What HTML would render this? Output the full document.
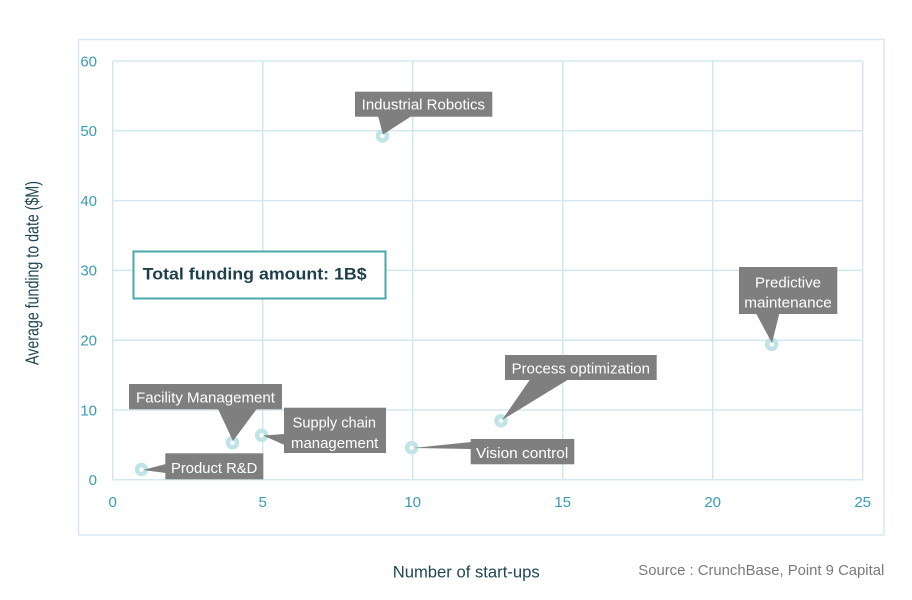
<!DOCTYPE html>
<html><head><meta charset="utf-8"><style>
html,body{margin:0;padding:0;background:#fff;}
svg{display:block;}
</style></head><body>
<svg width="912" height="600" viewBox="0 0 912 600" xmlns="http://www.w3.org/2000/svg" font-family="Liberation Sans, sans-serif">
<rect x="0" y="0" width="912" height="600" fill="#fff"/>
<!-- frame -->
<rect x="78.5" y="39.5" width="805.5" height="495.5" fill="none" stroke="#d5eaf0" stroke-width="1.5"/>
<!-- grid -->
<g stroke="#d3e8ee" stroke-width="1.5">
<line x1="112.7" y1="61" x2="112.7" y2="480"/>
<line x1="262.7" y1="61" x2="262.7" y2="480"/>
<line x1="412.7" y1="61" x2="412.7" y2="480"/>
<line x1="562.7" y1="61" x2="562.7" y2="480"/>
<line x1="712.7" y1="61" x2="712.7" y2="480"/>
<line x1="862.7" y1="61" x2="862.7" y2="480"/>
<line x1="112.7" y1="61" x2="862.7" y2="61"/>
<line x1="112.7" y1="130.8" x2="862.7" y2="130.8"/>
<line x1="112.7" y1="200.6" x2="862.7" y2="200.6"/>
<line x1="112.7" y1="270.4" x2="862.7" y2="270.4"/>
<line x1="112.7" y1="340.2" x2="862.7" y2="340.2"/>
<line x1="112.7" y1="410" x2="862.7" y2="410"/>
<line x1="112.7" y1="479.8" x2="862.7" y2="479.8"/>
</g>
<!-- y tick labels -->
<g fill="#3a9bb5" font-size="15" text-anchor="end">
<text x="97" y="66.3">60</text>
<text x="97" y="136.1">50</text>
<text x="97" y="205.9">40</text>
<text x="97" y="275.7">30</text>
<text x="97" y="345.5">20</text>
<text x="97" y="415.3">10</text>
<text x="97" y="485.1">0</text>
</g>
<!-- x tick labels -->
<g fill="#3a9bb5" font-size="15" text-anchor="middle">
<text x="112.7" y="507">0</text>
<text x="262.7" y="507">5</text>
<text x="412.7" y="507">10</text>
<text x="562.7" y="507">15</text>
<text x="712.7" y="507">20</text>
<text x="862.7" y="507">25</text>
</g>
<!-- axis titles -->
<text transform="translate(38.5,273) rotate(-90)" text-anchor="middle" font-size="18" fill="#1f4753" textLength="184" lengthAdjust="spacingAndGlyphs">Average funding to date ($M)</text>
<text x="392.7" y="577.5" font-size="17" fill="#1f4753" textLength="147" lengthAdjust="spacingAndGlyphs">Number of start-ups</text>
<text x="638.3" y="575" font-size="15" fill="#7a7a7a" textLength="246" lengthAdjust="spacingAndGlyphs">Source : CrunchBase, Point 9 Capital</text>
<!-- total funding box -->
<rect x="133.5" y="251.5" width="252" height="47" fill="#fff" stroke="#4aa8a8" stroke-width="2"/>
<text x="142.7" y="279.5" font-size="16.5" font-weight="bold" fill="#1d3f4a" textLength="224" lengthAdjust="spacingAndGlyphs">Total funding amount: 1B$</text>
<!-- markers -->
<g fill="#fff" stroke="#bfe3e7" stroke-width="4.5">
<circle cx="382.5" cy="136" r="4.5"/>
<circle cx="232.5" cy="442.7" r="4.5"/>
<circle cx="261.7" cy="435.3" r="4.5"/>
<circle cx="141.5" cy="469.5" r="4.5"/>
<circle cx="411.7" cy="447.7" r="4.5"/>
<circle cx="501" cy="420.7" r="4.5"/>
<circle cx="771.7" cy="344.3" r="4.5"/>
</g>
<!-- callouts -->
<g fill="#7f7f7f">
<rect x="355" y="91.7" width="137.3" height="25"/>
<polygon points="378,116 411.7,116 383,134.5"/>
<rect x="129" y="384" width="153" height="25.3"/>
<polygon points="218,409 256.7,409 233,441"/>
<rect x="284" y="407.7" width="102" height="45.3"/>
<polygon points="284.5,434 284.5,445 263,435.5"/>
<rect x="165.3" y="453.3" width="98" height="26"/>
<polygon points="165.8,464 165.8,473 143,470"/>
<rect x="470.7" y="439" width="103.6" height="25.3"/>
<polygon points="471.2,442 471.2,449 413,448"/>
<rect x="505" y="355" width="151.7" height="25"/>
<polygon points="530,379.5 568.3,379.5 502,420"/>
<rect x="739" y="267" width="98.3" height="47"/>
<polygon points="756,313.5 779.3,313.5 772,343"/>
</g>
<g fill="#fff" font-size="14.5">
<text x="361.7" y="109.7" textLength="123.3" lengthAdjust="spacingAndGlyphs">Industrial Robotics</text>
<text x="136" y="402.7" textLength="139" lengthAdjust="spacingAndGlyphs">Facility Management</text>
<text x="292.7" y="427.7" textLength="83.3" lengthAdjust="spacingAndGlyphs">Supply chain</text>
<text x="291" y="448.2" textLength="87.3" lengthAdjust="spacingAndGlyphs">management</text>
<text x="171" y="473.2" textLength="86.3" lengthAdjust="spacingAndGlyphs">Product R&amp;D</text>
<text x="476" y="458.2" textLength="92.3" lengthAdjust="spacingAndGlyphs">Vision control</text>
<text x="511.7" y="373.7" textLength="138.3" lengthAdjust="spacingAndGlyphs">Process optimization</text>
<text x="755" y="287.7" textLength="66" lengthAdjust="spacingAndGlyphs">Predictive</text>
<text x="744.3" y="307.7" textLength="87.4" lengthAdjust="spacingAndGlyphs">maintenance</text>
</g>
</svg>
</body></html>
